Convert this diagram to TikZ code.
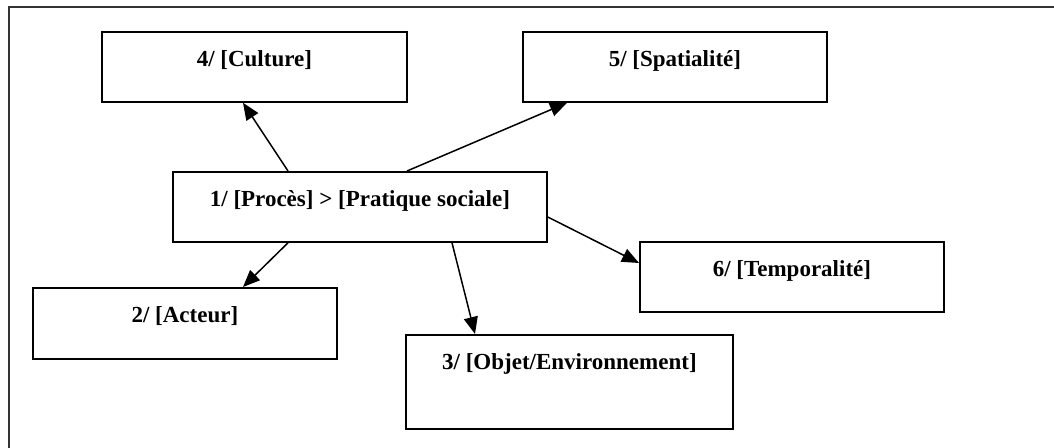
\documentclass[tikz,border=0pt]{standalone}
\usepackage{fontspec}
\setmainfont{Liberation Serif}
\usetikzlibrary{arrows.meta}

\begin{document}
\begin{tikzpicture}[x=1pt, y=-1pt,
  box/.style={draw, line width=1.8pt, anchor=north west, inner sep=0pt,
    align=center, text height=35pt, text depth=35pt,
    font=\fontsize{23}{27}\selectfont\bfseries},
  link/.style={line width=1.5pt, -{Triangle[length=17pt, width=14pt]}}
]
  \useasboundingbox (0,0) rectangle (1054,447);
  % outer frame, running past the right and bottom of the page
  \draw[line width=1.6pt, black!80] (9,7) rectangle (1100,500);

  % category boxes
  \node[box, minimum width=305pt] (n4) at (101,31) {4/ [Culture]};
  \node[box, minimum width=304pt] (n5) at (522,31) {5/ [Spatialité]};
  \node[box, minimum width=374pt] (n1) at (172,171) {1/ [Procès] > [Pratique sociale]};
  \node[box, minimum width=304pt] (n6) at (639,241) {6/ [Temporalité]};
  \node[box, minimum width=304pt, text depth=36pt] (n2) at (32,287) {2/ [Acteur]};
  \node[box, minimum width=327pt, text depth=59pt] (n3) at (405,334) {3/ [Objet/Environnement]};

  % links from the central process
  \draw[link] ([xshift=116pt]n1.north west) -- ([xshift=142pt]n4.south west);
  \draw[link] ([xshift=235pt]n1.north west) -- ([xshift=45pt]n5.south west);
  \draw[link] ([xshift=116pt]n1.south west) -- ([xshift=211pt]n2.north west);
  \draw[link] ([xshift=280pt]n1.south west) -- ([xshift=70pt]n3.north west);
  \draw[link] ([yshift=-46pt]n1.north east) -- ([yshift=-22pt]n6.north west);
\end{tikzpicture}
\end{document}
